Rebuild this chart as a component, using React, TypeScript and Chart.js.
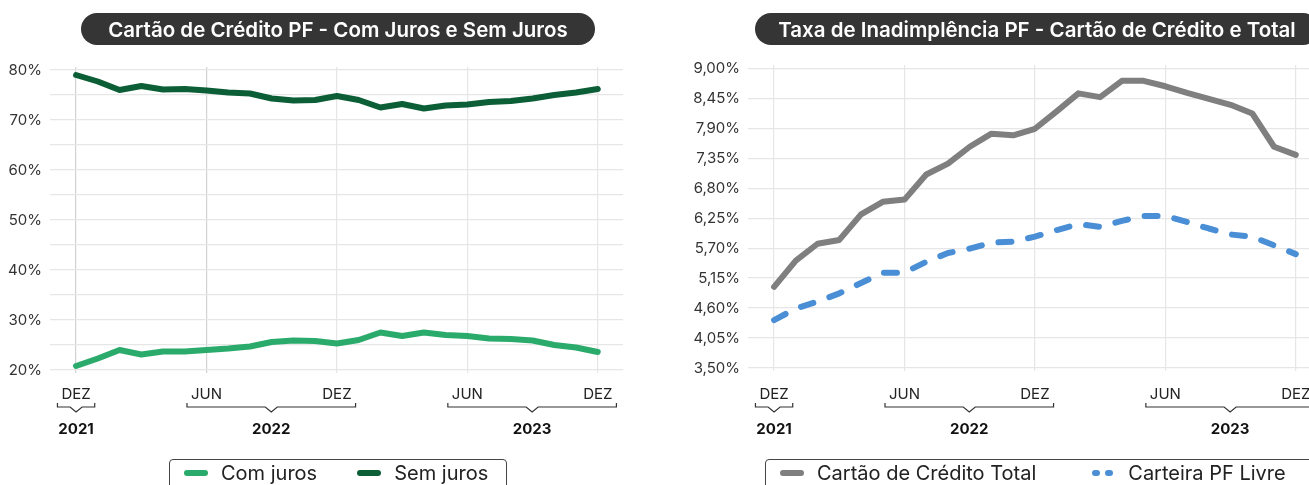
import React, { useEffect, useRef } from 'react';
import { Chart, registerables } from 'chart.js';

Chart.register(...registerables);

// ---------- DATA ----------
const MONTHS = ['DEZ', 'JAN', 'FEV', 'MAR', 'ABR', 'MAI', 'JUN', 'JUL', 'AGO', 'SET', 'OUT', 'NOV', 'DEZ',
  'JAN', 'FEV', 'MAR', 'ABR', 'MAI', 'JUN', 'JUL', 'AGO', 'SET', 'OUT', 'NOV', 'DEZ'];
const TICK_INDICES = [0, 6, 12, 18, 24];
const YEAR_LABELS = ['2021', '2022', '2023'];
const YEAR_FIRST_TICK = [0, 6, 18];
const YEAR_LAST_TICK = [0, 12, 24];

const COM_JUROS = [20.8, 22.3, 24.0, 23.1, 23.7, 23.7, 24.0, 24.3, 24.7, 25.6, 25.9, 25.8, 25.3,
  26.0, 27.5, 26.8, 27.5, 27.0, 26.8, 26.3, 26.2, 25.9, 25.0, 24.5, 23.6];
const SEM_JUROS = [79.0, 77.7, 76.0, 76.8, 76.1, 76.2, 75.9, 75.5, 75.3, 74.3, 73.9, 74.0, 74.8,
  74.0, 72.5, 73.2, 72.3, 72.9, 73.1, 73.6, 73.8, 74.3, 75.0, 75.5, 76.2];

const CARTAO_TOTAL = [4.99, 5.47, 5.78, 5.85, 6.32, 6.55, 6.59, 7.05, 7.25, 7.56, 7.80, 7.77, 7.89,
  8.21, 8.54, 8.47, 8.77, 8.77, 8.67, 8.55, 8.44, 8.33, 8.17, 7.56, 7.41];
const CARTEIRA_PF_LIVRE = [4.38, 4.59, 4.72, 4.87, 5.06, 5.25, 5.25, 5.45, 5.61, 5.69, 5.80, 5.82, 5.91,
  6.03, 6.14, 6.09, 6.20, 6.29, 6.29, 6.18, 6.06, 5.95, 5.91, 5.75, 5.59];

const LEFT_Y_TICKS = [20, 25, 30, 35, 40, 45, 50, 55, 60, 65, 70, 75, 80];
const RIGHT_Y_TICKS = [3.5, 4.05, 4.6, 5.15, 5.7, 6.25, 6.8, 7.35, 7.9, 8.45, 9.0];

const LEFT_TITLE = 'Cartão de Crédito PF - Com Juros e Sem Juros';
const RIGHT_TITLE = 'Taxa de Inadimplência PF - Cartão de Crédito e Total';
const LEFT_SERIES = ['Com juros', 'Sem juros'];
const RIGHT_SERIES = ['Cartão de Crédito Total', 'Carteira PF Livre'];

const C_LIGHT_GREEN = '#2bab6b';
const C_DARK_GREEN = '#0b5e35';
const C_GRAY = '#7f7f7f';
const C_BLUE = '#4a8fd6';

const FONT = 'Inter, Roboto, sans-serif';

// ---------- PLUGIN ----------
const bracketPlugin = {
  id: 'yearBrackets',
  afterDraw(chart: any, _args: any, opts: any) {
    const { ctx } = chart;
    const xs = chart.scales.x;
    ctx.save();
    YEAR_LABELS.forEach((yr, k) => {
      const i0 = YEAR_FIRST_TICK[k];
      const i1 = YEAR_LAST_TICK[k];
      ctx.font = `15px ${FONT}`;
      const w0 = ctx.measureText(MONTHS[i0]).width;
      const w1 = ctx.measureText(MONTHS[i1]).width;
      const x0 = xs.getPixelForValue(i0) - w0 / 2 - 4;
      const x1 = xs.getPixelForValue(i1) + w1 / 2 + 4;
      const cx = (x0 + x1) / 2;
      const y = opts.bracketY;
      ctx.beginPath();
      ctx.moveTo(x0, y - 4);
      ctx.lineTo(x0, y);
      ctx.lineTo(cx - 6, y);
      ctx.lineTo(cx, y + 5);
      ctx.lineTo(cx + 6, y);
      ctx.lineTo(x1, y);
      ctx.lineTo(x1, y - 4);
      ctx.strokeStyle = '#333';
      ctx.lineWidth = 1.2;
      ctx.stroke();
      ctx.font = `bold 15px ${FONT}`;
      ctx.fillStyle = '#111';
      ctx.textAlign = 'center';
      ctx.textBaseline = 'middle';
      ctx.fillText(yr, cx, opts.yearY);
    });
    ctx.restore();
  },
};

function makeOptions(cfg: {
  top: number; bottom: number; yMin: number; yMax: number; yTicks: number[]; yWidth: number;
  yLabel: (v: number) => string; darkTicks: number[]; tickPad: number;
}) {
  return {
    animation: false as const,
    responsive: false,
    maintainAspectRatio: false,
    layout: { padding: { top: cfg.top, bottom: cfg.bottom, left: 0, right: 27 } },
    plugins: {
      legend: { display: false },
      tooltip: { enabled: false },
      yearBrackets: { bracketY: 407, yearY: 429 },
    },
    elements: { point: { radius: 0 }, line: { tension: 0 } },
    scales: {
      x: {
        type: 'linear' as const,
        min: -1.2,
        max: 25.16,
        afterBuildTicks: (s: any) => { s.ticks = TICK_INDICES.map((v) => ({ value: v })); },
        afterFit: (s: any) => { s.height = 33; },
        border: { display: false },
        grid: {
          color: (c: any) => (c.tick && cfg.darkTicks.includes(c.tick.value) ? '#d2d2d2' : '#e6e6e6'),
          tickLength: 3,
          lineWidth: 1.2,
        },
        ticks: {
          callback: (v: any) => MONTHS[v as number],
          padding: cfg.tickPad,
          color: '#222',
          font: { size: 15, family: FONT },
          maxRotation: 0,
          autoSkip: false,
        },
      },
      y: {
        min: cfg.yMin,
        max: cfg.yMax,
        afterBuildTicks: (s: any) => { s.ticks = cfg.yTicks.map((v) => ({ value: v })); },
        afterFit: (s: any) => { s.width = cfg.yWidth; },
        border: { display: false },
        grid: { color: '#e6e6e6', drawTicks: false, lineWidth: 1.2 },
        ticks: {
          callback: (v: any) => cfg.yLabel(v as number),
          padding: 8,
          color: '#333',
          font: { size: 15, family: FONT },
          autoSkip: false,
        },
      },
    },
  };
}

function LeftChart() {
  const ref = useRef<HTMLCanvasElement>(null);
  useEffect(() => {
    const chart = new Chart(ref.current!, {
      type: 'line',
      data: {
        datasets: [
          {
            label: LEFT_SERIES[0],
            data: COM_JUROS.map((v, i) => ({ x: i, y: v })),
            borderColor: C_LIGHT_GREEN,
            backgroundColor: C_LIGHT_GREEN,
            borderWidth: 6,
            borderCapStyle: 'round',
            borderJoinStyle: 'round',
          },
          {
            label: LEFT_SERIES[1],
            data: SEM_JUROS.map((v, i) => ({ x: i, y: v })),
            borderColor: C_DARK_GREEN,
            backgroundColor: C_DARK_GREEN,
            borderWidth: 6,
            borderCapStyle: 'round',
            borderJoinStyle: 'round',
          },
        ],
      },
      options: makeOptions({
        top: 67, bottom: 82, yMin: 20, yMax: 80.6, yTicks: LEFT_Y_TICKS, yWidth: 50,
        yLabel: (v) => (v % 10 === 0 ? `${v}%` : ''), darkTicks: [0, 6], tickPad: 12,
      }) as any,
      plugins: [bracketPlugin],
    });
    return () => chart.destroy();
  }, []);
  return <canvas ref={ref} width={650} height={485} style={{ position: 'absolute', left: 0, top: 0, width: 650, height: 485 }} />;
}

function RightChart() {
  const ref = useRef<HTMLCanvasElement>(null);
  useEffect(() => {
    const chart = new Chart(ref.current!, {
      type: 'line',
      data: {
        datasets: [
          {
            label: RIGHT_SERIES[0],
            data: CARTAO_TOTAL.map((v, i) => ({ x: i, y: v })),
            borderColor: C_GRAY,
            backgroundColor: C_GRAY,
            borderWidth: 6,
            borderCapStyle: 'round',
            borderJoinStyle: 'round',
          },
          {
            label: RIGHT_SERIES[1],
            data: CARTEIRA_PF_LIVRE.map((v, i) => ({ x: i, y: v })),
            borderColor: C_BLUE,
            backgroundColor: C_BLUE,
            borderWidth: 6,
            borderDash: [13, 17],
            borderCapStyle: 'round',
            borderJoinStyle: 'round',
          },
        ],
      },
      options: makeOptions({
        top: 65, bottom: 84, yMin: 3.5, yMax: 9.06, yTicks: RIGHT_Y_TICKS, yWidth: 70,
        yLabel: (v) => `${v.toFixed(2).replace('.', ',')}%`, darkTicks: [], tickPad: 14,
      }) as any,
      plugins: [bracketPlugin],
    });
    return () => chart.destroy();
  }, []);
  return <canvas ref={ref} width={670} height={485} style={{ position: 'absolute', left: 678, top: 0, width: 670, height: 485 }} />;
}

function Pill({ text, left, width }: { text: string; left: number; width: number }) {
  return (
    <div
      style={{
        position: 'absolute', left, top: 13, width, height: 32, borderRadius: 16,
        background: '#353535', color: '#fff', fontFamily: FONT, fontWeight: 600, fontSize: 20.5,
        display: 'flex', alignItems: 'center', justifyContent: 'center', whiteSpace: 'nowrap',
      }}
    >
      {text}
    </div>
  );
}

function Marker({ color, dashed }: { color: string; dashed?: boolean }) {
  if (dashed) {
    return (
      <span style={{ display: 'inline-flex', gap: 5, width: 23 }}>
        <span style={{ width: 8, height: 6, borderRadius: 3, background: color }} />
        <span style={{ width: 8, height: 6, borderRadius: 3, background: color }} />
      </span>
    );
  }
  return <span style={{ display: 'inline-block', width: 24, height: 6, borderRadius: 3, background: color }} />;
}

function Legend({ left, width, padLeft, gap, items }: {
  left: number; width: number; padLeft: number; gap: number;
  items: { label: string; color: string; dashed?: boolean }[];
}) {
  return (
    <div
      style={{
        position: 'absolute', left, top: 459, width, height: 40, boxSizing: 'border-box',
        border: '1.3px solid #444', borderRadius: 4, display: 'flex', alignItems: 'flex-start',
        paddingLeft: padLeft, paddingTop: 1, fontFamily: FONT, fontSize: 20, lineHeight: '24px', color: '#222',
      }}
    >
      {items.map((it, i) => (
        <span key={it.label} style={{ display: 'inline-flex', alignItems: 'center', height: 24, marginLeft: i === 0 ? 0 : gap }}>
          <Marker color={it.color} dashed={it.dashed} />
          <span style={{ marginLeft: 13, whiteSpace: 'nowrap' }}>{it.label}</span>
        </span>
      ))}
    </div>
  );
}

export default function App() {
  return (
    <div style={{ position: 'fixed', left: 0, top: 0, width: 1309, height: 485, overflow: 'hidden', background: '#fff' }}>
      <LeftChart />
      <RightChart />
      <Pill text={LEFT_TITLE} left={81} width={514} />
      <Pill text={RIGHT_TITLE} left={755} width={564} />
      <Legend
        left={169} width={338} padLeft={14} gap={40}
        items={[
          { label: LEFT_SERIES[0], color: C_LIGHT_GREEN },
          { label: LEFT_SERIES[1], color: C_DARK_GREEN },
        ]}
      />
      <Legend
        left={765} width={560} padLeft={14} gap={56}
        items={[
          { label: RIGHT_SERIES[0], color: C_GRAY },
          { label: RIGHT_SERIES[1], color: C_BLUE, dashed: true },
        ]}
      />
    </div>
  );
}
